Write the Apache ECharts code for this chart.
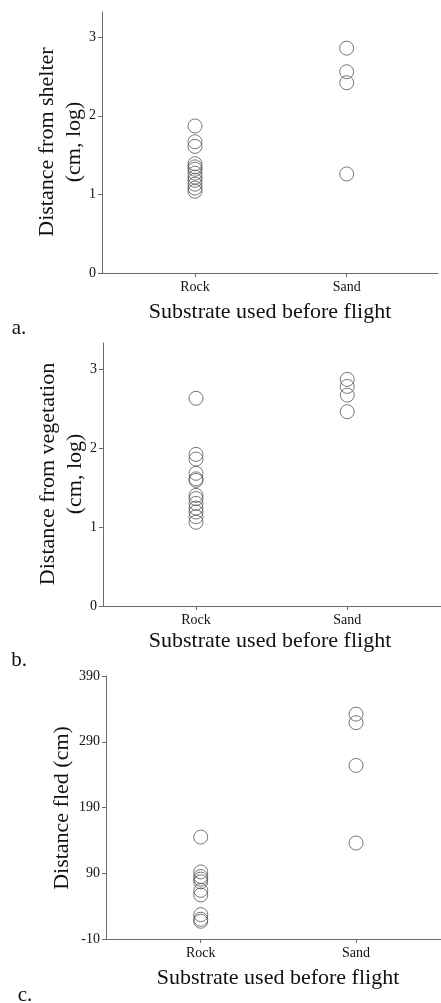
<!DOCTYPE html>
<html>
<head>
<meta charset="utf-8">
<script src="https://cdn.jsdelivr.net/npm/echarts@6/dist/echarts.min.js"></script>
<style>
html,body{margin:0;padding:0;background:#fff;}
#c{width:441px;height:1003px;}
</style>
</head>
<body>
<div id="c"></div>
<script>
// ---- data ----
const categories = ['Rock', 'Sand'];

const shelterRock = [1.87, 1.67, 1.61, 1.39, 1.35, 1.32, 1.27, 1.22, 1.18, 1.13, 1.08, 1.04];
const shelterSand = [2.86, 2.56, 2.42, 1.26];

const vegRock = [2.63, 1.92, 1.86, 1.68, 1.61, 1.59, 1.40, 1.36, 1.30, 1.24, 1.19, 1.13, 1.06];
const vegSand = [2.87, 2.78, 2.67, 2.46];

const fledRock = [145, 92, 85, 81, 77, 64, 57, 27, 20, 17];
const fledSand = [332, 319, 254, 136];

const logTicks = [0, 1, 2, 3];
const fledTicks = [-10, 90, 190, 290, 390];

const yTitles = [['Distance from shelter', '(cm, log)'], ['Distance from vegetation', '(cm, log)'], ['Distance fled (cm)']];
const xTitle = 'Substrate used before flight';
const panelLabels = ['a.', 'b.', 'c.'];

// ---- layout ----
const FONT = '"Liberation Serif", "DejaVu Serif", serif';
const AX = '#6b6b6b';
const panels = [
  {left:102, width:336, top:12, height:261, xmin:0.387, xmax:2.602, ymin:0, ymax:3.32, ticks:logTicks, rock:shelterRock, sand:shelterSand, ytx:61, yty:142, xtx:270, xty:312, plx:19, ply:328},
  {left:103, width:338, top:343, height:263, xmin:0.385, xmax:2.62, ymin:0, ymax:3.33, ticks:logTicks, rock:vegRock, sand:vegSand, ytx:62, yty:474, xtx:270, xty:641, plx:19, ply:660},
  {left:106, width:335, top:676, height:263, xmin:0.39, xmax:2.547, ymin:-10, ymax:390, ticks:fledTicks, rock:fledRock, sand:fledSand, ytx:62, yty:808, xtx:278, xty:978, plx:25, ply:995}
];

const grid = [], xAxis = [], yAxis = [], series = [], graphic = [];
panels.forEach((p, i) => {
  grid.push({left:p.left, top:p.top, width:p.width, height:p.height, containLabel:false});
  xAxis.push({
    type:'value', gridIndex:i, min:p.xmin, max:p.xmax,
    splitLine:{show:false},
    axisLine:{show:true, onZero:false, lineStyle:{color:AX, width:1}},
    axisTick:{show:true, length:4, customValues:[1,2], lineStyle:{color:AX}},
    axisLabel:{show:true, customValues:[1,2], margin:7, color:'#111', fontFamily:FONT, fontSize:14,
      formatter:v => categories[Math.round(v)-1] || ''}
  });
  yAxis.push({
    type:'value', gridIndex:i, min:p.ymin, max:p.ymax,
    splitLine:{show:false},
    axisLine:{show:true, onZero:false, lineStyle:{color:AX, width:1}},
    axisTick:{show:true, length:4, customValues:p.ticks, lineStyle:{color:AX}},
    axisLabel:{show:true, customValues:p.ticks, margin:6, color:'#111', fontFamily:FONT, fontSize:14}
  });
  [p.rock, p.sand].forEach((arr, k) => {
    series.push({
      type:'scatter', xAxisIndex:i, yAxisIndex:i,
      symbol:'circle', symbolSize:14,
      itemStyle:{color:'rgba(0,0,0,0)', borderColor:'#555', borderWidth:1},
      emphasis:{disabled:true},
      data:arr.map(v => [k+1, v])
    });
  });
  const yt = yTitles[i];
  graphic.push({
    type:'text', x:p.ytx, y:p.yty, rotation:Math.PI/2,
    style:{text:yt.join('\n'), font:'22px ' + FONT, fill:'#111', textAlign:'center', textVerticalAlign:'middle', lineHeight:27}
  });
  graphic.push({
    type:'text', x:p.xtx, y:p.xty,
    style:{text:xTitle, font:'22px ' + FONT, fill:'#111', textAlign:'center', textVerticalAlign:'middle'}
  });
  graphic.push({
    type:'text', x:p.plx, y:p.ply,
    style:{text:panelLabels[i], font:'21px ' + FONT, fill:'#111', textAlign:'center', textVerticalAlign:'middle'}
  });
});

const chart = echarts.init(document.getElementById('c'), null, {renderer:'canvas'});
chart.setOption({animation:false, grid, xAxis, yAxis, series, graphic});
</script>
</body>
</html>
